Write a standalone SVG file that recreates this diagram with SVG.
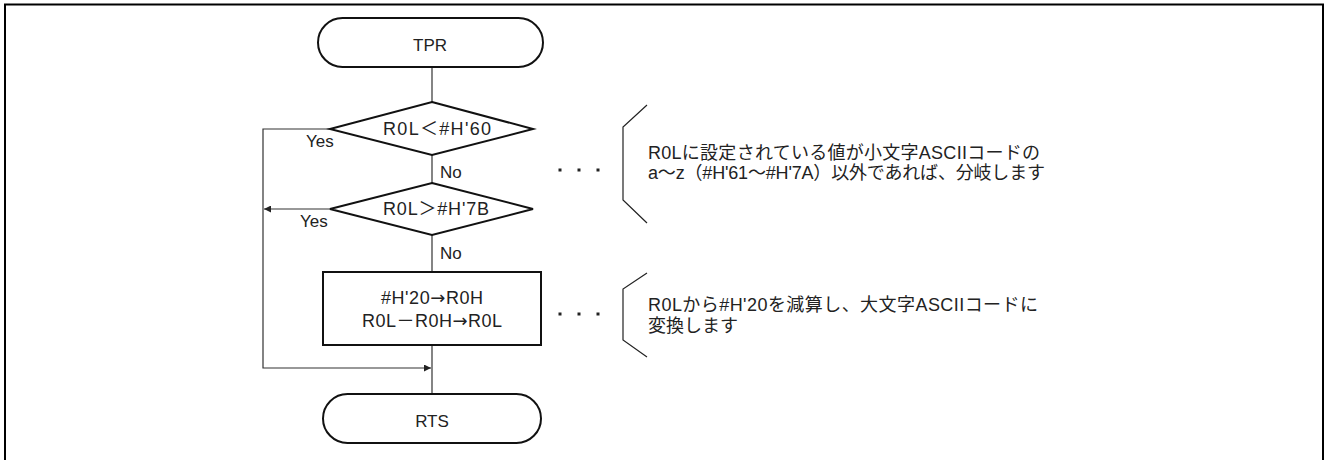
<svg xmlns="http://www.w3.org/2000/svg" width="1325" height="460" viewBox="0 0 1325 460">
<defs>
<marker id="arr" viewBox="0 0 10 10" refX="10" refY="5" markerWidth="9" markerHeight="7" markerUnits="userSpaceOnUse" orient="auto">
<path d="M0,0 L10,5 L0,10 z" fill="#222"/>
</marker>
<style>
.shape{fill:#fff;stroke:#111;stroke-width:2}
.conn{fill:none;stroke:#333;stroke-width:1.2}
.brace{fill:none;stroke:#222;stroke-width:1.2}
text{font-family:"Liberation Sans","Noto Sans CJK JP",Arial,sans-serif;font-size:17px;fill:#222}
.c{text-anchor:middle}
.big{font-size:18px}
.note{font-size:18px}
.ar{font-family:"DejaVu Sans",sans-serif}
</style>
</defs>
<rect x="0" y="0" width="1325" height="460" fill="#fff"/>
<path d="M5,470 V4.5 H1323 V470" fill="none" stroke="#000" stroke-width="2"/>

<g id="connectors">
<line class="conn" x1="432" y1="67" x2="432" y2="102"/>
<line class="conn" x1="432" y1="155" x2="432" y2="183"/>
<line class="conn" x1="432" y1="235" x2="432" y2="272"/>
<line class="conn" x1="432" y1="345" x2="432" y2="394"/>
<polyline class="conn" points="330,129 263,129 263,368 431,368" marker-end="url(#arr)"/>
<line class="conn" x1="330" y1="209" x2="264" y2="209" marker-end="url(#arr)"/>
<text x="306" y="147">Yes</text>
<text x="300" y="227">Yes</text>
<text x="440" y="178">No</text>
<text x="440" y="259">No</text>
</g>

<g id="tpr">
<rect class="shape" x="318" y="18" width="225" height="49" rx="24.5" ry="24.5"/>
<text class="c" x="430" y="51">TPR</text>
</g>

<g id="dec1">
<polygon class="shape" points="432,102 533,129 432,155 330,129"/>
<text class="c big" x="437" y="135" textLength="108" lengthAdjust="spacing">R0L＜#H'60</text>
</g>

<g id="dec2">
<polygon class="shape" points="432,183 533,209 432,235 330,209"/>
<text class="c big" x="436" y="215" textLength="106" lengthAdjust="spacing">R0L＞#H'7B</text>
</g>

<g id="proc">
<rect class="shape" x="323" y="272" width="218" height="73"/>
<text class="c big" x="432" y="304" textLength="102" lengthAdjust="spacing">#H'20<tspan class="ar">→</tspan>R0H</text>
<text class="c big" x="432" y="327" textLength="140" lengthAdjust="spacing">R0L－R0H<tspan class="ar">→</tspan>R0L</text>
</g>

<g id="rts">
<rect class="shape" x="323" y="394" width="218" height="49" rx="24.5" ry="24.5"/>
<text class="c" x="432" y="427">RTS</text>
</g>

<g id="note1">
<g fill="#222">
<rect x="558.5" y="168.5" width="3" height="3"/>
<rect x="577.5" y="168.5" width="3" height="3"/>
<rect x="596.5" y="168.5" width="3" height="3"/>
</g>
<polyline class="brace" points="647,105 623,127 623,200 647,223"/>
<text class="note" x="648" y="159" textLength="392" lengthAdjust="spacing">R0Lに設定されている値が小文字ASCIIコードの</text>
<text class="note" x="648" y="179" textLength="397" lengthAdjust="spacing">a～z（#H'61～#H'7A）以外であれば、分岐します</text>
</g>

<g id="note2">
<g fill="#222">
<rect x="558.5" y="312.5" width="3" height="3"/>
<rect x="577.5" y="312.5" width="3" height="3"/>
<rect x="596.5" y="312.5" width="3" height="3"/>
</g>
<polyline class="brace" points="647,273 623,289 623,340 647,357"/>
<text class="note" x="648" y="311" textLength="390" lengthAdjust="spacing">R0Lから#H'20を減算し、大文字ASCIIコードに</text>
<text class="note" x="648" y="332">変換します</text>
</g>
</svg>
